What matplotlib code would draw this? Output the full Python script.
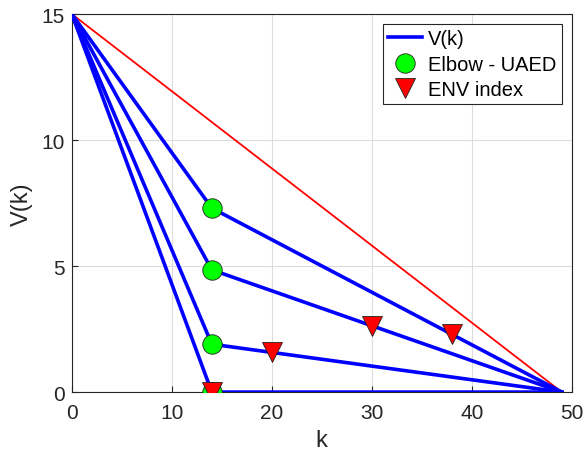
import matplotlib
matplotlib.use('Agg')
import matplotlib.pyplot as plt
import numpy as np

plt.rcParams['font.family'] = ['Liberation Sans', 'DejaVu Sans']

# data
k_start, k_elbow, k_end = 0, 14, 49
v_start = 15
elbow_vals = [7.3, 4.85, 1.9, 0.0]
env_k = [38, 30, 20, 14]

fig = plt.figure(figsize=(5.84, 4.56), dpi=100)
ax = fig.add_axes([0.123, 0.138, 0.856, 0.829])

# reference straight line
ax.plot([k_start, k_end], [v_start, 0], color='red', lw=1.3, zorder=2)

for i, ve in enumerate(elbow_vals):
    ax.plot([k_start, k_elbow, k_end], [v_start, ve, 0], color='blue', lw=2.6,
            label='V(k)' if i == 0 else None, zorder=3)

ax.plot([k_elbow] * len(elbow_vals), elbow_vals, 'o', ms=14, mfc='#00ff00',
        mec='#222222', mew=0.6, ls='none', label='Elbow - UAED', zorder=4)

env_v = [np.interp(kk, [k_elbow, k_end], [ve, 0]) for kk, ve in zip(env_k, elbow_vals)]
ax.plot(env_k, env_v, 'v', ms=14, mfc='red', mec='#222222', mew=0.6,
        ls='none', label='ENV index', zorder=5)

ax.set_xlim(0, 50)
ax.set_ylim(0, 15)
ax.set_xticks([0, 10, 20, 30, 40, 50])
ax.set_yticks([0, 5, 10, 15])
ax.grid(True, color='#dcdcdc', lw=0.8)
ax.set_axisbelow(True)
ax.tick_params(direction='in', labelsize=15, colors='#262626', length=4)
ax.tick_params(axis='x', pad=8)
ax.tick_params(axis='y', pad=5)
for s in ax.spines.values():
    s.set_color('#262626')
    s.set_linewidth(0.8)
ax.set_xlabel('k', fontsize=17, color='#262626', labelpad=5)
ax.set_ylabel('V(k)', fontsize=17, color='#262626', labelpad=6)

leg = ax.legend(loc='upper right', fontsize=14.5, fancybox=False, framealpha=1,
                edgecolor='#262626', handlelength=1.7, handletextpad=0.3,
                borderpad=0.25, labelspacing=0.33, borderaxespad=0.5)
leg.get_frame().set_linewidth(0.8)

fig.savefig('out.png', dpi=100)
